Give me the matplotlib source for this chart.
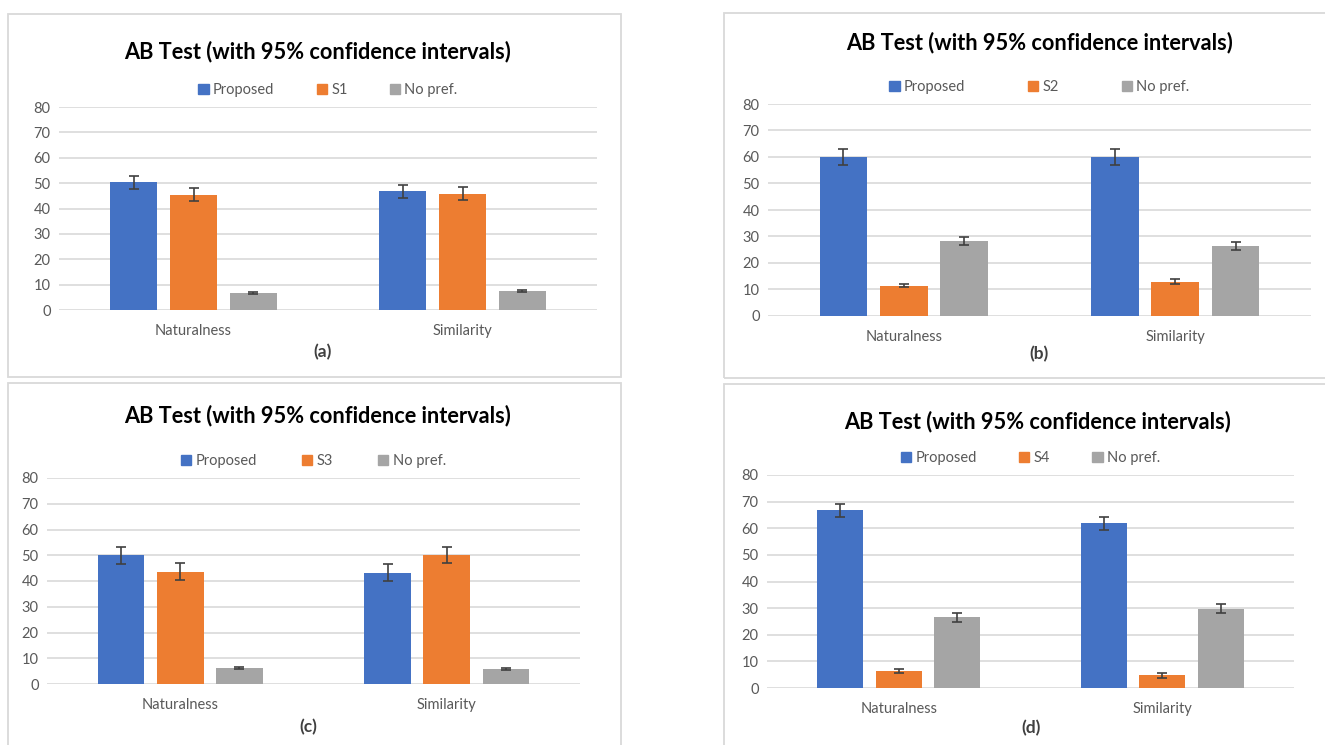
import numpy as np
import matplotlib.pyplot as plt
from matplotlib.patches import Rectangle, Patch

plt.rcParams['font.family'] = ['Lato', 'DejaVu Sans']

categories = ['Naturalness', 'Similarity']
baselines = ['S1', 'S2', 'S3', 'S4']
panel_tags = ['(a)', '(b)', '(c)', '(d)']

# values per panel, [Naturalness, Similarity]
proposed = [[50.3, 46.8], [60.0, 60.0], [50.0, 43.3], [66.8, 61.8]]
baseline = [[45.5, 45.9], [11.5, 13.0], [43.6, 50.0], [6.3, 4.8]]
nopref = [[6.6, 7.5], [28.3, 26.4], [6.3, 5.9], [26.6, 29.8]]

proposed_err = [[2.7, 2.5], [3.0, 3.0], [3.3, 3.4], [2.4, 2.4]]
baseline_err = [[2.4, 2.4], [0.7, 0.8], [3.3, 3.2], [0.8, 1.0]]
nopref_err = [[0.4, 0.4], [1.5, 1.4], [0.3, 0.3], [1.7, 1.8]]

yticks = [0, 10, 20, 30, 40, 50, 60, 70, 80]

colors = ['#4472C4', '#ED7D31', '#A5A5A5']

W, H = 1325, 745
fig = plt.figure(figsize=(W / 100, H / 100), dpi=100)

# pixel layout of each panel
boxes = [(8, 14, 621, 377), (724, 13, 1340, 378), (8, 383, 621, 760), (724, 384, 1340, 760)]
axes_px = [(59, 597, 107, 310), (768, 1311, 104, 316), (47, 580, 478, 684), (767, 1294, 475, 688)]
title_pos = [(318, 52), (1040, 43), (318, 416), (1037, 422)]
tag_pos = [(323, 352), (1039, 354), (308, 727), (1031, 728)]
legend_gap = [2.9, 4.3, 3.1, 2.9]

for k in range(4):
    bx0, by0, bx1, by1 = boxes[k]
    fig.patches.append(Rectangle((bx0 / W, 1 - by1 / H), (bx1 - bx0) / W, (by1 - by0) / H,
                                 transform=fig.transFigure, fill=False,
                                 edgecolor='#d9d9d9', linewidth=1.3))

    ax0, ax1, y80, y0 = axes_px[k]
    ax = fig.add_axes([ax0 / W, 1 - y0 / H, (ax1 - ax0) / W, (y0 - y80) / H])

    x = np.arange(len(categories))
    width = 0.175
    step = 0.222
    vals = [proposed[k], baseline[k], nopref[k]]
    errs = [proposed_err[k], baseline_err[k], nopref_err[k]]
    for i in range(3):
        ax.bar(x + (i - 1) * step, vals[i], width, color=colors[i], zorder=3,
               yerr=errs[i], error_kw=dict(ecolor='#404040', elinewidth=1.2,
                                           capsize=3.5, capthick=1.2, zorder=4))

    ax.set_xlim(-0.5, 1.5)
    ax.set_ylim(0, 80)
    ax.set_yticks(yticks)
    ax.set_xticks(x)
    ax.set_xticklabels(categories)
    ax.grid(axis='y', color='#d9d9d9', linewidth=1.2, zorder=0)
    for s in ax.spines.values():
        s.set_visible(False)
    ax.tick_params(axis='both', length=0, labelsize=10.5, colors='#595959', pad=6)
    ax.tick_params(axis='x', pad=10)

    labels = ['Proposed', baselines[k], 'No pref.']
    handles = [Patch(color=c) for c in colors]
    ax.legend(handles, labels, ncol=3, frameon=False, loc='lower center',
              bbox_to_anchor=(0.5, 1.02), handlelength=0.7, handleheight=0.7,
              handletextpad=0.3, columnspacing=legend_gap[k], fontsize=10.5,
              labelcolor='#595959', borderaxespad=0)

    tx, ty = title_pos[k]
    fig.text(tx / W, 1 - ty / H, 'AB Test (with 95% confidence intervals)',
             ha='center', va='center', fontsize=15.7, fontweight='bold', color='black')
    gx, gy = tag_pos[k]
    fig.text(gx / W, 1 - gy / H, panel_tags[k], ha='center', va='center',
             fontsize=12.5, fontweight='bold', color='#404040')

fig.savefig('out.png', dpi=100)
